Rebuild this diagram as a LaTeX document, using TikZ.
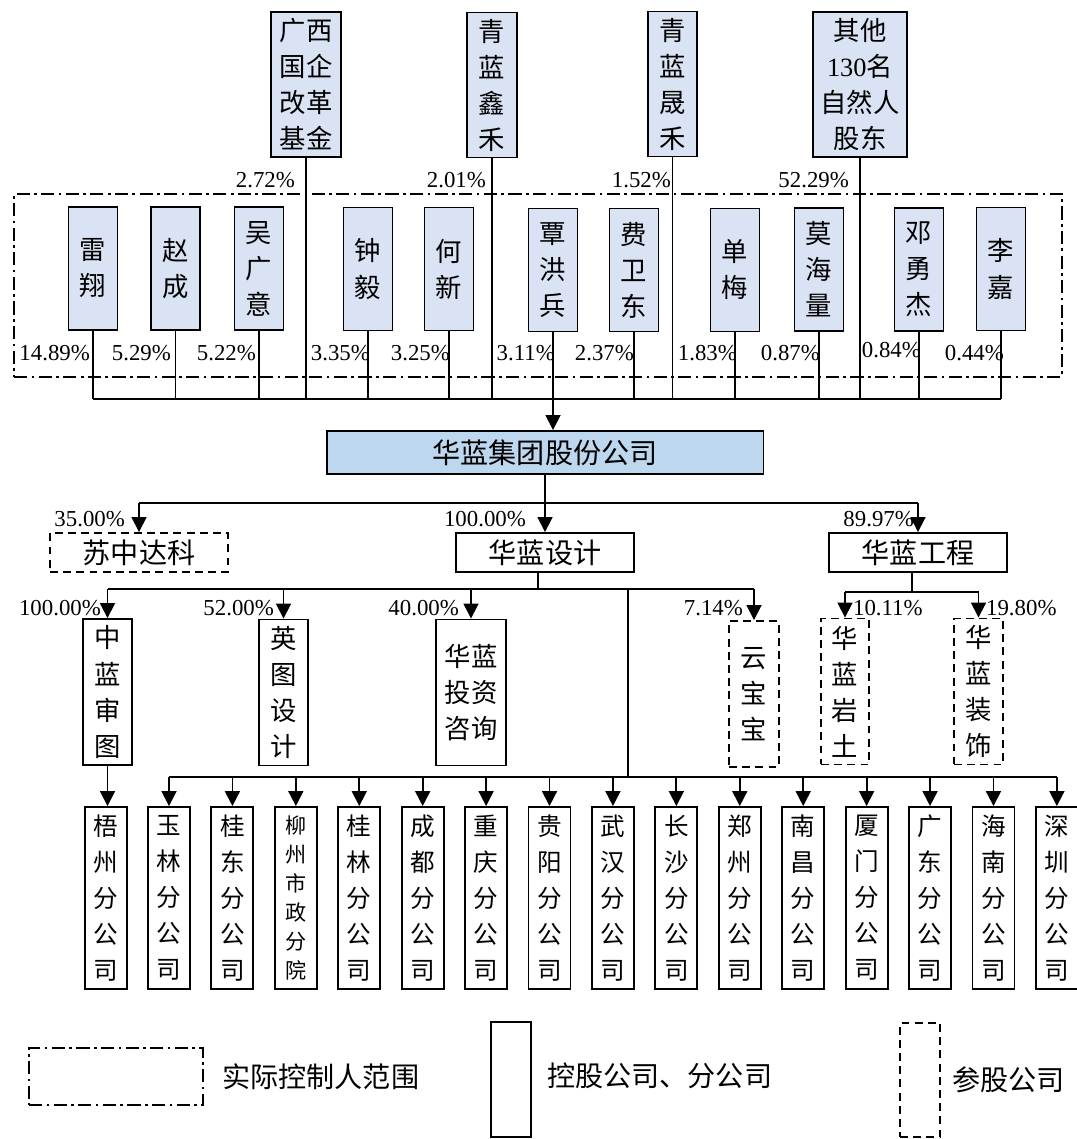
\documentclass[tikz,border=0pt]{standalone}
\usepackage{fontspec}
\setmainfont{Liberation Serif}
\newfontfamily\cjk{Noto Sans CJK SC}
\usepackage{xcolor}
\usetikzlibrary{arrows.meta, positioning}
\definecolor{holderblue}{HTML}{DAE3F3}
\definecolor{groupblue}{HTML}{BDD7EE}

\begin{document}
\begin{tikzpicture}[
    x=0.02cm, y=-0.02cm,
    holder/.style={rectangle, draw, fill=holderblue, line width=1.1pt, inner sep=0pt, align=center, minimum width=0.98cm, minimum height=2.46cm, font=\cjk\fontsize{15}{20.5}\selectfont},
    groupbox/.style={rectangle, draw, fill=groupblue, line width=1.1pt, minimum width=8.74cm, minimum height=0.86cm, font=\cjk\fontsize{16}{19}\selectfont},
    company/.style={rectangle, draw, line width=1.1pt, minimum width=3.56cm, minimum height=0.78cm, font=\cjk\fontsize{16}{19}\selectfont},
    sub/.style={rectangle, draw, line width=1.1pt, inner sep=0pt, align=center, minimum width=0.98cm, minimum height=2.92cm, font=\cjk\fontsize{15}{20.5}\selectfont},
    branch/.style={rectangle, draw, line width=1.1pt, inner sep=0pt, align=center, minimum width=0.84cm, minimum height=3.64cm, font=\cjk\fontsize{14}{20.5}\selectfont},
    share/.style={dash pattern=on 4.5pt off 3pt},
    ctrlrange/.style={rectangle, draw, line width=1.2pt, dash pattern=on 7.5pt off 2.5pt on 1.5pt off 2.5pt},
    legend/.style={inner sep=0pt, font=\cjk\fontsize{16}{19}\selectfont},
    pct/.style={inner sep=1pt, font=\fontsize{13}{15}\selectfont},
    link/.style={line width=0.7pt},
    arrow/.style={-{Triangle[width=8.5pt, length=8.5pt]}, line width=1pt}
]
\useasboundingbox (0,0) rectangle (1077,1139);

% Shareholders outside the control range
\node[holder, minimum width=1.4cm, minimum height=2.9cm] (guoqi) at (306,84.5) {广西\\国企\\改革\\基金};
\node[holder, minimum width=1.0cm, minimum height=2.9cm] (xinhe) at (492,85) {青\\蓝\\鑫\\禾};
\node[holder, minimum height=2.9cm] (shenghe) at (672.5,84) {青\\蓝\\晟\\禾};
\node[holder, minimum width=1.88cm, minimum height=2.9cm] (others) at (860,84.5) {其他\\{\rmfamily 130}名\\自然人\\股东};
\node[pct, anchor=east] (p-guoqi) at (297,180) {2.72\%};
\node[pct, anchor=east] (p-xinhe) at (488,180) {2.01\%};
\node[pct, anchor=east] (p-shenghe) at (673,180) {1.52\%};
\node[pct, anchor=east] (p-others) at (851,180) {52.29\%};

% Control range: natural person shareholders
\node[ctrlrange, minimum width=20.96cm, minimum height=3.66cm] (ctrl) at (538,285.5) {};
\node[holder] (leixiang) at (93,268.5) {雷\\翔};
\node[holder] (zhaocheng) at (175.5,268.5) {赵\\成};
\node[holder] (wuguangyi) at (259,268.5) {吴\\广\\意};
\node[holder] (zhongyi) at (368,269) {钟\\毅};
\node[holder] (hexin) at (449,269) {何\\新};
\node[holder] (qinhongbing) at (553,270) {覃\\洪\\兵};
\node[holder] (feiweidong) at (634,270) {费\\卫\\东};
\node[holder] (danmei) at (735,270) {单\\梅};
\node[holder] (mohailiang) at (819,269.5) {莫\\海\\量};
\node[holder] (dengyongjie) at (919,269.5) {邓\\勇\\杰};
\node[holder] (lijia) at (1001,269) {李\\嘉};
\node[pct, anchor=east] (p-leixiang) at (92,353) {14.89\%};
\node[pct, anchor=east] (p-zhaocheng) at (173,353) {5.29\%};
\node[pct, anchor=east] (p-wuguangyi) at (258,353) {5.22\%};
\node[pct, anchor=east] (p-zhongyi) at (372,353) {3.35\%};
\node[pct, anchor=east] (p-hexin) at (452,353) {3.25\%};
\node[pct, anchor=east] (p-qinhongbing) at (557,353) {3.11\%};
\node[pct, anchor=east] (p-feiweidong) at (636,353) {2.37\%};
\node[pct, anchor=east] (p-danmei) at (739,353) {1.83\%};
\node[pct, anchor=east] (p-mohailiang) at (822,353) {0.87\%};
\node[pct, anchor=east] (p-dengyongjie) at (923,350) {0.84\%};
\node[pct, anchor=east] (p-lijia) at (1006,353) {0.44\%};

% Group company and first level
\node[groupbox] (group) at (545,452.5) {华蓝集团股份公司};
\node[company, share] (suzhong) at (139,552.5) {苏中达科};
\node[company] (sheji) at (545,552.5) {华蓝设计};
\node[company] (gongcheng) at (918,552.5) {华蓝工程};
\node[pct, anchor=east] (p-suzhong) at (127,519) {35.00\%};
\node[pct, anchor=east] (p-sheji) at (528,519) {100.00\%};
\node[pct, anchor=east] (p-gongcheng) at (916,519) {89.97\%};

% Second level
\node[sub] (zhonglan) at (107.5,692) {中\\蓝\\审\\图};
\node[sub] (yingtu) at (283.5,692.5) {英\\图\\设\\计};
\node[sub, minimum width=1.4cm] (touzi) at (471,692.5) {华蓝\\投资\\咨询};
\node[sub, share, minimum width=1.0cm] (yunbao) at (754,694) {云\\宝\\宝};
\node[sub, share, minimum width=0.96cm] (yantu) at (845,691.5) {华\\蓝\\岩\\土};
\node[sub, share] (zhuangshi) at (978.5,691.5) {华\\蓝\\装\\饰};
\node[pct, anchor=east] (p-zhonglan) at (103,608) {100.00\%};
\node[pct, anchor=east] (p-yingtu) at (276,608) {52.00\%};
\node[pct, anchor=east] (p-touzi) at (461,608) {40.00\%};
\node[pct, anchor=east] (p-yunbao) at (745,608) {7.14\%};
\node[pct, anchor=west] (p-yantu) at (851,608) {10.11\%};
\node[pct, anchor=west] (p-zhuangshi) at (984,608) {19.80\%};

% Branches
\node[branch] (wuzhou) at (106,898) {梧\\州\\分\\公\\司};
\node[branch] (yulin) at (169,898) {玉\\林\\分\\公\\司};
\node[branch, right=0.39cm of yulin] (guidong) {桂\\东\\分\\公\\司};
\node[branch, right=0.39cm of guidong, font=\cjk\fontsize{12}{16.5}\selectfont] (liuzhou) {柳\\州\\市\\政\\分\\院};
\node[branch, right=0.39cm of liuzhou] (guilin) {桂\\林\\分\\公\\司};
\node[branch, right=0.39cm of guilin] (chengdu) {成\\都\\分\\公\\司};
\node[branch, right=0.39cm of chengdu] (chongqing) {重\\庆\\分\\公\\司};
\node[branch, right=0.39cm of chongqing] (guiyang) {贵\\阳\\分\\公\\司};
\node[branch, right=0.39cm of guiyang] (wuhan) {武\\汉\\分\\公\\司};
\node[branch, right=0.39cm of wuhan] (changsha) {长\\沙\\分\\公\\司};
\node[branch, right=0.39cm of changsha] (zhengzhou) {郑\\州\\分\\公\\司};
\node[branch, right=0.39cm of zhengzhou] (nanchang) {南\\昌\\分\\公\\司};
\node[branch, right=0.39cm of nanchang] (xiamen) {厦\\门\\分\\公\\司};
\node[branch, right=0.39cm of xiamen] (guangdong) {广\\东\\分\\公\\司};
\node[branch, right=0.39cm of guangdong] (hainan) {海\\南\\分\\公\\司};
\node[branch, right=0.39cm of hainan] (shenzhen) {深\\圳\\分\\公\\司};

% Legend
\node[ctrlrange, minimum width=3.48cm, minimum height=1.14cm] (lg-ctrl) at (116,1076.5) {};
\node[legend, right=0.36cm of lg-ctrl] (lg-ctrl-text) {实际控制人范围};
\node[rectangle, draw, line width=1.1pt, minimum width=0.8cm, minimum height=2.3cm] (lg-hold) at (511,1079.5) {};
\node[legend, right=0.3cm of lg-hold, yshift=0.08cm] (lg-hold-text) {控股公司、分公司};
\node[rectangle, draw, line width=1.1pt, share, minimum width=0.8cm, minimum height=2.28cm] (lg-share) at (920,1080) {};
\node[legend, right=0.22cm of lg-share] (lg-share-text) {参股公司};

% Bus coordinates
\coordinate (bus1) at (0,399);
\coordinate (bus2) at (0,503);
\coordinate (bus3) at (0,589);
\coordinate (bus3b) at (0,592);
\coordinate (bus4) at (0,777);
\coordinate (fork) at (628,589);

% Shareholders into the group
\foreach \p in {guoqi, xinhe, shenghe, others, leixiang, zhaocheng, wuguangyi, zhongyi, hexin, qinhongbing, feiweidong, danmei, mohailiang, dengyongjie, lijia}
    \draw[link] (\p.south) -- (\p.south |- bus1);
\draw[link] (leixiang.south |- bus1) -- (lijia.south |- bus1);
\draw[arrow] (qinhongbing.south |- bus1) -- (qinhongbing.south |- group.north);

% Group to first level
\draw[link] (group.south) -- (group.south |- bus2);
\draw[link] (suzhong.north |- bus2) -- (gongcheng.north |- bus2);
\draw[arrow] (suzhong.north |- bus2) -- (suzhong.north);
\draw[arrow] (sheji.north |- bus2) -- (sheji.north);
\draw[arrow] (gongcheng.north |- bus2) -- (gongcheng.north);

% Hualan design subsidiaries
\draw[link] ([xshift=-0.14cm]sheji.south) -- ([xshift=-0.14cm]sheji.south |- bus3);
\draw[link] (zhonglan.north |- bus3) -- (yunbao.north |- bus3);
\draw[arrow] (zhonglan.north |- bus3) -- (zhonglan.north);
\draw[arrow] (yingtu.north |- bus3) -- (yingtu.north);
\draw[arrow] (touzi.north |- bus3) -- (touzi.north);
\draw[arrow] (yunbao.north |- bus3) -- (yunbao.north);

% Hualan engineering participations
\draw[link] ([xshift=-0.12cm]gongcheng.south) -- ([xshift=-0.12cm]gongcheng.south |- bus3b);
\draw[link] (yantu.north |- bus3b) -- (zhuangshi.north |- bus3b);
\draw[arrow] (yantu.north |- bus3b) -- (yantu.north);
\draw[arrow] (zhuangshi.north |- bus3b) -- (zhuangshi.north);

% Branches
\draw[arrow] (zhonglan.south) -- (zhonglan.south |- wuzhou.north);
\draw[link] (fork) -- (fork |- bus4);
\draw[link] (yulin.north |- bus4) -- (shenzhen.north |- bus4);
\foreach \b in {yulin, guidong, liuzhou, guilin, chengdu, chongqing, guiyang, wuhan, changsha, zhengzhou, nanchang, xiamen, guangdong, hainan, shenzhen}
    \draw[arrow] (\b.north |- bus4) -- (\b.north);

\end{tikzpicture}
\end{document}
